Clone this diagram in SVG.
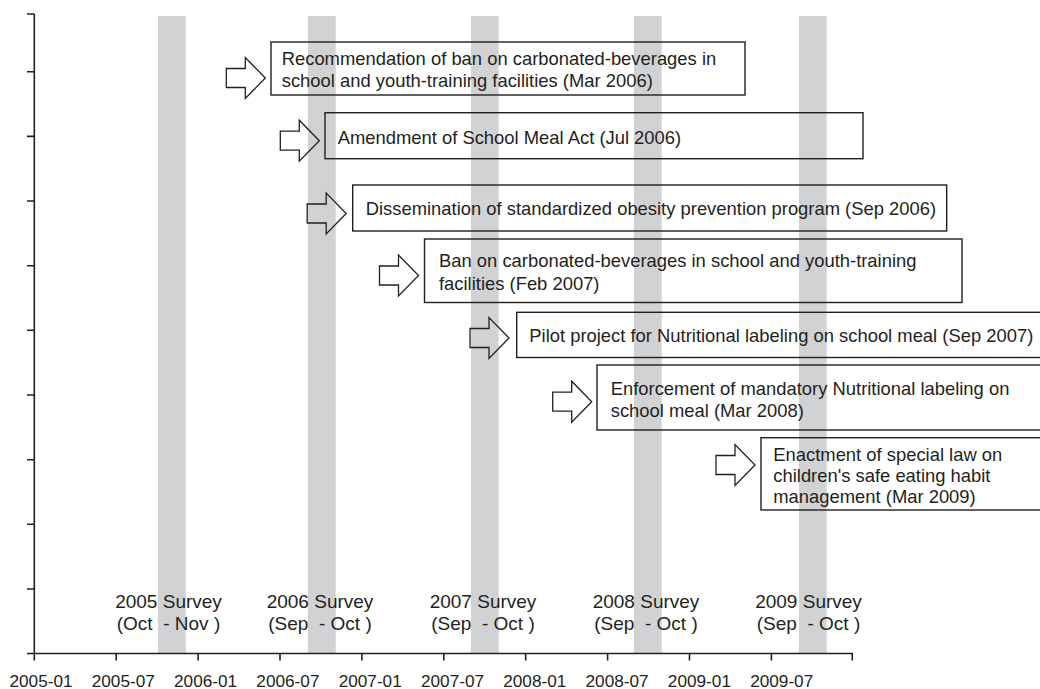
<svg xmlns="http://www.w3.org/2000/svg" width="1040" height="689" viewBox="0 0 1040 689">
<defs>
<style>
.bar{fill:#d1d2d4}
.ax{stroke:#231f20;stroke-width:1.6;fill:none}
.box{fill:none;stroke:#231f20;stroke-width:1.4}
.arr{fill:none;stroke:#231f20;stroke-width:1.3;stroke-linejoin:miter}
text{font-family:"Liberation Sans",Arial,sans-serif;fill:#231f20}
.t{font-size:18.4px}
.s{font-size:19px;text-anchor:middle;white-space:pre}
.d{font-size:17.2px;text-anchor:middle}
</style>
<path id="arw" d="M0,-9.5 H19 V-20.5 L39,0 L19,20.5 V9.5 H0 Z"/>
</defs>
<rect width="1040" height="689" fill="#ffffff"/>
<g id="survey-bars">
<rect class="bar" x="158" y="16" width="27.7" height="637"/>
<rect class="bar" x="308" y="16" width="27.7" height="637"/>
<rect class="bar" x="471" y="16" width="27.7" height="637"/>
<rect class="bar" x="634" y="16" width="27.7" height="637"/>
<rect class="bar" x="799" y="16" width="27.7" height="637"/>
</g>
<g id="axes">
<path class="ax" d="M34.3,14 V653.5 M27,653.5 H853"/>
<path class="ax" d="M27,14 H34.3 M27,71.7 H34.3 M27,136.4 H34.3 M27,201 H34.3 M27,265.7 H34.3 M27,330.3 H34.3 M27,395 H34.3 M27,459.7 H34.3 M27,524.3 H34.3 M27,589 H34.3"/>
<path class="ax" d="M34.3,653.5 V660.5 M116.2,653.5 V660.5 M198.1,653.5 V660.5 M280,653.5 V660.5 M361.9,653.5 V660.5 M443.8,653.5 V660.5 M525.7,653.5 V660.5 M607.6,653.5 V660.5 M689.5,653.5 V660.5 M771.4,653.5 V660.5 M852.3,653.5 V660.5"/>
<g id="x-labels">
<text class="d" x="41" y="687">2005-01</text>
<text class="d" x="123.3" y="687">2005-07</text>
<text class="d" x="205.6" y="687">2006-01</text>
<text class="d" x="287.9" y="687">2006-07</text>
<text class="d" x="370.2" y="687">2007-01</text>
<text class="d" x="452.5" y="687">2007-07</text>
<text class="d" x="534.8" y="687">2008-01</text>
<text class="d" x="617.1" y="687">2008-07</text>
<text class="d" x="699.4" y="687">2009-01</text>
<text class="d" x="781.7" y="687">2009-07</text>
</g>
</g>
<g id="survey-labels">
<text class="s" x="168.5" y="607.5">2005 Survey</text>
<text class="s" x="168.5" y="630">(Oct  - Nov )</text>
<text class="s" x="320" y="607.5">2006 Survey</text>
<text class="s" x="320" y="630">(Sep  - Oct )</text>
<text class="s" x="483" y="607.5">2007 Survey</text>
<text class="s" x="483" y="630">(Sep  - Oct )</text>
<text class="s" x="646" y="607.5">2008 Survey</text>
<text class="s" x="646" y="630">(Sep  - Oct )</text>
<text class="s" x="808.5" y="607.5">2009 Survey</text>
<text class="s" x="808.5" y="630">(Sep  - Oct )</text>
</g>
<g id="connectors">
<use href="#arw" class="arr" x="226.3" y="78"/>
<use href="#arw" class="arr" x="280.3" y="140.7"/>
<use href="#arw" class="arr" x="307.2" y="213.5"/>
<use href="#arw" class="arr" x="379.5" y="275.5"/>
<use href="#arw" class="arr" x="470" y="338"/>
<use href="#arw" class="arr" x="552.7" y="401.7"/>
<use href="#arw" class="arr" x="716" y="465"/>
</g>
<g id="node-1">
<rect class="box" x="271" y="42" width="474" height="53"/>
<text class="t" x="281.7" y="65">Recommendation of ban on carbonated-beverages in</text>
<text class="t" x="281.7" y="86.5">school and youth-training facilities (Mar 2006)</text>
</g>
<g id="node-2">
<rect class="box" x="325" y="112.7" width="538" height="46"/>
<text class="t" x="337.7" y="144.3">Amendment of School Meal Act (Jul 2006)</text>
</g>
<g id="node-3">
<rect class="box" x="352.7" y="185" width="594" height="46"/>
<text class="t" x="365.7" y="215.3">Dissemination of standardized obesity prevention program (Sep 2006)</text>
</g>
<g id="node-4">
<rect class="box" x="424.5" y="239" width="537.5" height="63.5"/>
<text class="t" x="439" y="267.3">Ban on carbonated-beverages in school and youth-training</text>
<text class="t" x="439" y="289.5">facilities (Feb 2007)</text>
</g>
<g id="node-5">
<rect class="box" x="516.7" y="312.3" width="540" height="45.2"/>
<text class="t" x="529.3" y="341.7">Pilot project for Nutritional labeling on school meal (Sep 2007)</text>
</g>
<g id="node-6">
<rect class="box" x="597" y="365" width="460" height="65"/>
<text class="t" x="610.7" y="395">Enforcement of mandatory Nutritional labeling on</text>
<text class="t" x="610.7" y="416.7">school meal (Mar 2008)</text>
</g>
<g id="node-7">
<rect class="box" x="761" y="437.7" width="300" height="72.3"/>
<text class="t" x="773.3" y="461">Enactment of special law on</text>
<text class="t" x="773.3" y="482">children's safe eating habit</text>
<text class="t" x="773.3" y="503">management (Mar 2009)</text>
</g>
</svg>
